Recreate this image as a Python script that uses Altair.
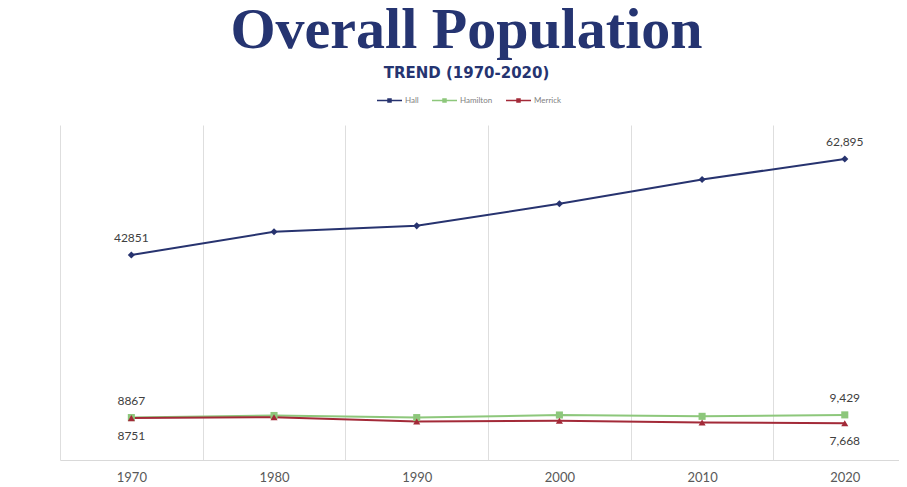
import altair as alt
import pandas as pd

years = [1970, 1980, 1990, 2000, 2010, 2020]
hall = [42851, 47690, 48925, 53534, 58607, 62895]
hamilton = [8867, 9301, 8862, 9403, 9124, 9429]
merrick = [8751, 8945, 8042, 8204, 7845, 7668]
series = ["Hall", "Hamilton", "Merrick"]
colors = ["#27336F", "#8DC77B", "#A32A38"]
shapes = ["diamond", "square", "triangle-up"]
label_side = ["above", "above", "below"]
y_ticks = [0, 10000, 20000, 30000, 40000, 50000, 60000, 70000]

rows = []
for name, vals, side in zip(series, [hall, hamilton, merrick], label_side):
    for i, (yr, v) in enumerate(zip(years, vals)):
        if i == 0:
            lab = str(v)
        elif i == len(years) - 1:
            lab = f"{v:,}"
        else:
            lab = ""
        rows.append(dict(Year=yr, County=name, Population=v, Label=lab, Side=side))
df = pd.DataFrame(rows)

grid_years = [y - 5 for y in years]
xscale = alt.Scale(domain=[1965, 2023.8], nice=False, zero=False)
yscale = alt.Scale(domain=[0, 70000], nice=False)

y_enc = alt.Y("Population:Q", scale=yscale,
              axis=alt.Axis(values=y_ticks, format="d", title=None, grid=False, ticks=False,
                            domain=True, domainColor="#d9d9d9", domainWidth=1,
                            labelPadding=13, labelFont="Lato",
                            labelFontSize=12, labelColor="#595959"))

color_legend = alt.Legend(orient="none", legendX=316, legendY=-38, direction="horizontal",
                          title=None, symbolType="M-1,0H1M-0.12,-0.12H0.12V0.12H-0.12Z",
                          symbolSize=625, symbolStrokeWidth=1.5, labelFont="Lato",
                          labelFontSize=8, labelColor="#7f7f7f", labelOffset=2,
                          columnPadding=10)

lines = alt.Chart(df).mark_line(strokeWidth=2).encode(
    x=alt.X("Year:Q", scale=xscale,
            axis=alt.Axis(values=years, format="d", title=None, grid=False, ticks=False,
                          domainColor="#d9d9d9", labelPadding=11, labelFont="Lato",
                          labelFontSize=13, labelColor="#595959", labelFlush=False)),
    y=y_enc,
    color=alt.Color("County:N", scale=alt.Scale(domain=series, range=colors), legend=color_legend),
)

grid_layer = alt.Chart(df).mark_point(opacity=0).encode(
    x=alt.X("Year:Q", scale=xscale,
            axis=alt.Axis(orient="top", values=grid_years, grid=True, gridColor="#dedede",
                          labels=False, ticks=False, domain=False, title=None)),
    y=alt.Y("Population:Q", axis=None),
)

point_layers = []
for name, shp, col in zip(series, shapes, colors):
    point_layers.append(
        alt.Chart(df).transform_filter(alt.datum.County == name)
        .mark_point(filled=True, opacity=1, size=50, strokeWidth=0, shape=shp, fill=col)
        .encode(x=alt.X("Year:Q", axis=None), y=alt.Y("Population:Q", axis=None))
    )

above = alt.Chart(df).transform_filter(
    (alt.datum.Side == "above") & (alt.datum.Label != "")
).mark_text(dy=-17, font="Lato", fontSize=12, color="#404040", baseline="middle").encode(
    x=alt.X("Year:Q", axis=None), y=alt.Y("Population:Q", axis=None), text="Label:N")

below = alt.Chart(df).transform_filter(
    (alt.datum.Side == "below") & (alt.datum.Label != "")
).mark_text(dy=18, font="Lato", fontSize=12, color="#404040", baseline="middle").encode(
    x=alt.X("Year:Q", axis=None), y=alt.Y("Population:Q", axis=None), text="Label:N")

chart = alt.layer(lines, grid_layer, *point_layers, above, below).resolve_axis(x="independent").properties(
    width=839, height=335,
    background="white",
    autosize=alt.AutoSizeParams(type="none"),
    padding={"left": 52, "top": 117, "right": 0, "bottom": 25},
    title=alt.TitleParams(text="Overall Population", subtitle="TREND (1970-2020)",
                          font="Liberation Serif", fontSize=58, fontWeight="bold",
                          color="#253471", subtitleFont="DejaVu Sans", subtitleFontSize=15,
                          subtitleFontWeight="bold", subtitleColor="#253471",
                          anchor="middle", dx=-13, offset=6, subtitlePadding=6),
).configure_view(stroke=None)

chart.save("out.html", embed_options={"renderer": "svg", "actions": False})
